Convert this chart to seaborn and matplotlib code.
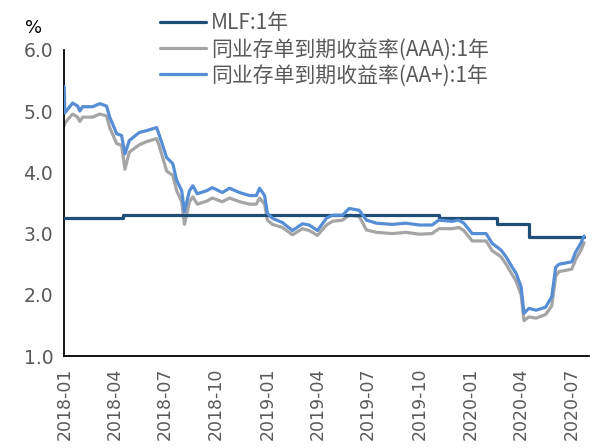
import numpy as np
import pandas as pd
import matplotlib
matplotlib.use("Agg")
import matplotlib.pyplot as plt
import matplotlib.dates as mdates
import seaborn as sns

# ---------------- data ----------------
cd_dates = ["2018-01-01", "2018-01-02", "2018-01-09", "2018-01-16", "2018-01-25", "2018-01-29",
            "2018-02-03", "2018-02-21", "2018-03-06", "2018-03-18", "2018-03-24", "2018-03-29",
            "2018-04-05", "2018-04-14", "2018-04-20", "2018-04-28", "2018-05-16", "2018-05-29",
            "2018-06-16", "2018-06-21", "2018-07-04", "2018-07-15", "2018-07-22", "2018-07-31",
            "2018-08-05", "2018-08-14", "2018-08-20", "2018-08-28", "2018-09-14", "2018-09-24",
            "2018-10-12", "2018-10-25", "2018-11-12", "2018-11-30", "2018-12-12", "2018-12-18",
            "2018-12-27", "2019-01-01", "2019-01-10", "2019-01-28", "2019-02-15", "2019-03-05",
            "2019-03-17", "2019-04-01", "2019-04-17", "2019-04-28", "2019-05-16", "2019-05-28",
            "2019-06-15", "2019-06-28", "2019-07-16", "2019-08-13", "2019-09-07", "2019-10-01",
            "2019-10-24", "2019-11-05", "2019-11-29", "2019-12-11", "2019-12-20", "2020-01-04",
            "2020-01-29", "2020-02-09", "2020-02-25", "2020-03-05", "2020-03-14", "2020-03-23",
            "2020-04-01", "2020-04-06", "2020-04-15", "2020-04-28", "2020-05-15", "2020-05-26",
            "2020-06-02", "2020-06-08", "2020-06-20", "2020-07-01", "2020-07-08", "2020-07-17",
            "2020-07-23"]

cd_aa_plus = [5.40, 4.97, 5.05, 5.13, 5.08, 5.00,
              5.07, 5.07, 5.12, 5.08, 4.89, 4.79,
              4.63, 4.60, 4.30, 4.52, 4.65, 4.68,
              4.73, 4.60, 4.24, 4.14, 3.87, 3.70,
              3.36, 3.70, 3.78, 3.65, 3.70, 3.75,
              3.67, 3.74, 3.67, 3.62, 3.62, 3.74,
              3.62, 3.33, 3.25, 3.18, 3.05, 3.16,
              3.14, 3.05, 3.25, 3.30, 3.30, 3.41,
              3.38, 3.22, 3.17, 3.15, 3.17, 3.14,
              3.14, 3.22, 3.20, 3.22, 3.17, 3.00,
              3.00, 2.84, 2.73, 2.62, 2.48, 2.35,
              2.13, 1.70, 1.78, 1.75, 1.80, 1.97,
              2.45, 2.50, 2.52, 2.54, 2.70, 2.84,
              2.96]

cd_aaa = [4.76, 4.80, 4.88, 4.95, 4.90, 4.83,
          4.90, 4.90, 4.95, 4.92, 4.72, 4.62,
          4.47, 4.44, 4.05, 4.33, 4.45, 4.50,
          4.55, 4.42, 4.02, 3.95, 3.70, 3.52,
          3.15, 3.52, 3.60, 3.48, 3.53, 3.58,
          3.52, 3.58, 3.52, 3.48, 3.48, 3.58,
          3.48, 3.22, 3.15, 3.10, 2.98, 3.08,
          3.05, 2.97, 3.14, 3.20, 3.22, 3.30,
          3.28, 3.06, 3.02, 3.00, 3.02, 2.99,
          3.00, 3.08, 3.08, 3.10, 3.05, 2.88,
          2.88, 2.72, 2.62, 2.50, 2.36, 2.22,
          2.00, 1.58, 1.64, 1.62, 1.68, 1.82,
          2.30, 2.38, 2.40, 2.42, 2.58, 2.72,
          2.85]

mlf_dates = ["2018-01-01", "2018-04-17", "2019-11-05", "2020-02-17", "2020-04-15", "2020-07-23"]
mlf_rate = [3.25, 3.30, 3.25, 3.15, 2.95, 2.95]

series_names = ["MLF:1年", "同业存单到期收益率(AAA):1年", "同业存单到期收益率(AA+):1年"]
series_colors = ["#1F4E79", "#A5A5A5", "#558ED5"]
y_ticks = [1.0, 2.0, 3.0, 4.0, 5.0, 6.0]

# ---------------- frames ----------------
df_cd = pd.DataFrame({"date": pd.to_datetime(cd_dates), "aaa": cd_aaa, "aap": cd_aa_plus})
df_mlf = pd.DataFrame({"date": pd.to_datetime(mlf_dates), "rate": mlf_rate})

sns.set_theme(style="white")
plt.rcParams["font.family"] = ["Noto Sans CJK SC", "DejaVu Sans"]

fig = plt.figure(figsize=(5.95, 4.48), dpi=100)
ax = fig.add_axes([0.108, 0.205, 0.882, 0.684])

lw = 2.3
sns.lineplot(data=df_cd, x="date", y="aaa", ax=ax, color=series_colors[1], linewidth=lw,
             label=series_names[1], zorder=2)
sns.lineplot(data=df_mlf, x="date", y="rate", ax=ax, color=series_colors[0], linewidth=lw,
             drawstyle="steps-post", label=series_names[0], zorder=3)
sns.lineplot(data=df_cd, x="date", y="aap", ax=ax, color=series_colors[2], linewidth=lw,
             label=series_names[2], zorder=4)

ax.set_xlim(pd.Timestamp("2018-01-01"), pd.Timestamp("2020-08-01"))
ax.set_ylim(1.0, 6.0)
ax.set_yticks(y_ticks)
ax.set_yticklabels([f"{v:.1f}" for v in y_ticks])
ax.xaxis.set_major_locator(mdates.MonthLocator(bymonth=[1, 4, 7, 10]))
ax.xaxis.set_major_formatter(mdates.DateFormatter("%Y-%m"))
ax.set_xlabel("")
ax.set_ylabel("")

for s in ["top", "right"]:
    ax.spines[s].set_visible(False)
for s in ["left", "bottom"]:
    ax.spines[s].set_color("black")
    ax.spines[s].set_linewidth(1.3)

ax.tick_params(axis="both", which="major", direction="out", length=5, width=1.3,
               color="black", labelcolor="#595959")
ax.tick_params(axis="y", labelsize=13.5, pad=3)
ax.tick_params(axis="x", labelsize=12.5, labelrotation=90, pad=3)
for lab in ax.get_xticklabels() + ax.get_yticklabels():
    lab.set_family(["DejaVu Sans"])

ax.text(-0.075, 1.04, "%", transform=ax.transAxes, fontsize=13, color="black",
        ha="left", va="bottom", family=["DejaVu Sans"])

handles, labels = ax.get_legend_handles_labels()
order = [labels.index(n) for n in series_names]
leg = fig.legend([handles[i] for i in order], [labels[i] for i in order],
                 loc="upper left", bbox_to_anchor=(0.262, 0.982), frameon=False,
                 fontsize=15, handlelength=2.2, handletextpad=0.25, labelspacing=0.2,
                 borderaxespad=0.0, borderpad=0.2)
for t in leg.get_texts():
    t.set_color("#595959")
if ax.get_legend():
    ax.get_legend().remove()

fig.savefig("out.png", dpi=100)
